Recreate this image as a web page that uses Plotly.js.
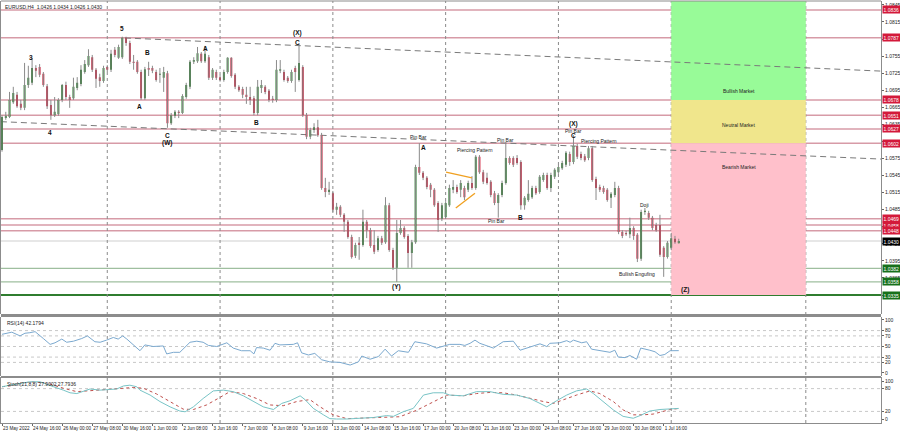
<!DOCTYPE html>
<html><head><meta charset="utf-8">
<script src="https://cdn.plot.ly/plotly-3.0.1.min.js"></script>
<style>html,body{margin:0;padding:0;background:#fff}#chart{width:900px;height:433px}</style>
</head><body><div id="chart"></div>
<script>
// ---------- DATA (EURUSD H4, bar index 0 = 23 May 2022 08:00) ----------
const barOpen=[1.0590,1.0646,1.0648,1.0674,1.0687,1.0671,1.0664,1.0704,1.0708,1.0734,1.0736,1.0724,1.0702,1.0669,1.0651,1.0653,1.0678,1.0704,1.0683,1.0681,1.0699,1.0706,1.0727,1.0739,1.0753,1.0731,1.0718,1.0711,1.0736,1.0731,1.0766,1.0752,1.0753,1.0787,1.0778,1.0745,1.0745,1.0727,1.0681,1.0734,1.0734,1.0727,1.0722,1.0717,1.0725,1.0637,1.0650,1.0657,1.0655,1.0683,1.0701,1.0745,1.0746,1.0759,1.0746,1.0753,1.0717,1.0727,1.0718,1.0713,1.0727,1.0752,1.0722,1.0701,1.0697,1.0687,1.0683,1.0681,1.0655,1.0699,1.0701,1.0694,1.0680,1.0678,1.0729,1.0727,1.0717,1.0711,1.0734,1.0713,1.0736,1.0651,1.0613,1.0625,1.0630,1.0616,1.0523,1.0516,1.0514,1.0485,1.0490,1.0476,1.0464,1.0437,1.0404,1.0427,1.0423,1.0464,1.0449,1.0423,1.0414,1.0435,1.0428,1.0493,1.0414,1.0383,1.0444,1.0453,1.0439,1.0409,1.0428,1.0560,1.0550,1.0541,1.0529,1.0520,1.0497,1.0469,1.0472,1.0493,1.0520,1.0525,1.0520,1.0523,1.0520,1.0532,1.0523,1.0578,1.0551,1.0541,1.0534,1.0514,1.0497,1.0511,1.0532,1.0576,1.0576,1.0576,1.0569,1.0493,1.0502,1.0507,1.0523,1.0516,1.0537,1.0546,1.0523,1.0543,1.0551,1.0558,1.0564,1.0583,1.0569,1.0597,1.0583,1.0579,1.0576,1.0593,1.0539,1.0525,1.0523,1.0520,1.0506,1.0511,1.0523,1.0446,1.0444,1.0442,1.0453,1.0441,1.0399,1.0481,1.0479,1.0471,1.0458,1.0458,1.0418,1.0402,1.0418,1.0434,1.0426];
const barHigh=[1.0651,1.0657,1.0692,1.0701,1.0692,1.0678,1.0743,1.0738,1.0752,1.0739,1.0741,1.0727,1.0706,1.0678,1.0683,1.0681,1.0706,1.0710,1.0687,1.0717,1.0718,1.0739,1.0748,1.0767,1.0757,1.0734,1.0724,1.0738,1.0739,1.0766,1.0771,1.0775,1.0789,1.0789,1.0782,1.0757,1.0748,1.0731,1.0736,1.0745,1.0738,1.0731,1.0734,1.0736,1.0729,1.0655,1.0660,1.0660,1.0688,1.0708,1.0748,1.0753,1.0771,1.0762,1.0773,1.0757,1.0734,1.0731,1.0722,1.0731,1.0753,1.0753,1.0725,1.0704,1.0701,1.0701,1.0701,1.0685,1.0713,1.0713,1.0704,1.0697,1.0685,1.0748,1.0748,1.0731,1.0720,1.0731,1.0738,1.0776,1.0739,1.0655,1.0629,1.0637,1.0643,1.0620,1.0541,1.0534,1.0518,1.0497,1.0493,1.0479,1.0467,1.0441,1.0427,1.0437,1.0485,1.0467,1.0453,1.0449,1.0439,1.0439,1.0507,1.0497,1.0418,1.0467,1.0467,1.0456,1.0442,1.0432,1.0564,1.0602,1.0553,1.0544,1.0532,1.0523,1.0500,1.0497,1.0500,1.0529,1.0537,1.0529,1.0537,1.0527,1.0536,1.0544,1.0581,1.0581,1.0555,1.0550,1.0537,1.0518,1.0514,1.0536,1.0604,1.0579,1.0579,1.0581,1.0572,1.0509,1.0537,1.0527,1.0527,1.0546,1.0550,1.0550,1.0550,1.0558,1.0564,1.0571,1.0588,1.0587,1.0616,1.0601,1.0587,1.0583,1.0597,1.0597,1.0543,1.0529,1.0527,1.0523,1.0516,1.0534,1.0527,1.0449,1.0448,1.0471,1.0456,1.0444,1.0485,1.0488,1.0483,1.0474,1.0462,1.0476,1.0421,1.0430,1.0444,1.0439,1.0434];
const barLow=[1.0587,1.0643,1.0646,1.0671,1.0664,1.0660,1.0660,1.0699,1.0704,1.0718,1.0718,1.0701,1.0662,1.0643,1.0648,1.0650,1.0674,1.0678,1.0664,1.0678,1.0695,1.0702,1.0724,1.0736,1.0727,1.0699,1.0701,1.0708,1.0727,1.0727,1.0753,1.0750,1.0750,1.0773,1.0741,1.0731,1.0724,1.0678,1.0678,1.0720,1.0725,1.0710,1.0708,1.0692,1.0629,1.0634,1.0646,1.0646,1.0653,1.0680,1.0697,1.0741,1.0743,1.0743,1.0743,1.0713,1.0713,1.0713,1.0710,1.0710,1.0724,1.0717,1.0697,1.0692,1.0681,1.0671,1.0669,1.0651,1.0651,1.0690,1.0688,1.0674,1.0673,1.0674,1.0725,1.0710,1.0708,1.0708,1.0692,1.0710,1.0648,1.0609,1.0609,1.0620,1.0613,1.0520,1.0507,1.0511,1.0481,1.0476,1.0472,1.0446,1.0434,1.0399,1.0400,1.0397,1.0420,1.0435,1.0418,1.0407,1.0411,1.0423,1.0425,1.0411,1.0379,1.0358,1.0441,1.0434,1.0383,1.0383,1.0425,1.0546,1.0537,1.0521,1.0507,1.0490,1.0446,1.0465,1.0469,1.0490,1.0514,1.0513,1.0507,1.0502,1.0516,1.0520,1.0520,1.0548,1.0530,1.0529,1.0507,1.0493,1.0471,1.0507,1.0529,1.0564,1.0560,1.0564,1.0485,1.0485,1.0499,1.0504,1.0511,1.0513,1.0534,1.0520,1.0516,1.0539,1.0548,1.0555,1.0560,1.0562,1.0565,1.0574,1.0572,1.0569,1.0572,1.0534,1.0502,1.0516,1.0513,1.0499,1.0488,1.0507,1.0442,1.0435,1.0439,1.0435,1.0432,1.0393,1.0395,1.0476,1.0467,1.0449,1.0446,1.0402,1.0367,1.0399,1.0414,1.0425,1.0426];
const barClose=[1.0648,1.0650,1.0678,1.0690,1.0667,1.0664,1.0704,1.0717,1.0734,1.0729,1.0722,1.0704,1.0667,1.0651,1.0657,1.0678,1.0704,1.0683,1.0678,1.0701,1.0708,1.0731,1.0741,1.0755,1.0731,1.0715,1.0711,1.0734,1.0731,1.0759,1.0757,1.0771,1.0787,1.0778,1.0745,1.0743,1.0727,1.0681,1.0732,1.0731,1.0729,1.0713,1.0724,1.0727,1.0637,1.0651,1.0657,1.0655,1.0685,1.0704,1.0745,1.0748,1.0760,1.0746,1.0759,1.0717,1.0731,1.0717,1.0713,1.0727,1.0752,1.0720,1.0701,1.0695,1.0687,1.0683,1.0678,1.0655,1.0701,1.0704,1.0692,1.0678,1.0678,1.0731,1.0732,1.0713,1.0711,1.0727,1.0727,1.0743,1.0651,1.0613,1.0625,1.0630,1.0616,1.0523,1.0516,1.0520,1.0485,1.0490,1.0476,1.0464,1.0437,1.0402,1.0423,1.0423,1.0464,1.0449,1.0421,1.0411,1.0435,1.0427,1.0493,1.0414,1.0383,1.0444,1.0453,1.0437,1.0409,1.0428,1.0560,1.0550,1.0541,1.0525,1.0520,1.0493,1.0467,1.0493,1.0497,1.0523,1.0525,1.0516,1.0532,1.0507,1.0532,1.0523,1.0578,1.0551,1.0534,1.0532,1.0511,1.0497,1.0511,1.0532,1.0576,1.0567,1.0564,1.0567,1.0493,1.0506,1.0513,1.0523,1.0514,1.0543,1.0546,1.0523,1.0546,1.0555,1.0560,1.0567,1.0585,1.0569,1.0597,1.0578,1.0576,1.0572,1.0593,1.0537,1.0523,1.0520,1.0516,1.0502,1.0513,1.0523,1.0446,1.0439,1.0442,1.0453,1.0439,1.0399,1.0481,1.0483,1.0471,1.0453,1.0449,1.0406,1.0402,1.0427,1.0435,1.0428,1.0430];

const timeTickIdx=[0,8,16,24,32,40,48,56,64,72,80,88,96,104,112,120,128,136,144,152,160,168,176];
const timeTickText=['23 May 2022','24 May 16:00','26 May 00:00','27 May 08:00','30 May 16:00','1 Jun 00:00','2 Jun 08:00','3 Jun 16:00','7 Jun 00:00','8 Jun 08:00','9 Jun 16:00','13 Jun 00:00','14 Jun 08:00','15 Jun 16:00','17 Jun 00:00','20 Jun 08:00','21 Jun 16:00','23 Jun 00:00','24 Jun 08:00','27 Jun 16:00','29 Jun 00:00','30 Jun 08:00','1 Jul 16:00'];
const separatorIdx=[28,58,88,118,148,178,213.8];
const priceTicks=[1.0335,1.0365,1.0395,1.0425,1.0455,1.0485,1.0515,1.0545,1.0575,1.0605,1.0635,1.0665,1.0695,1.0725,1.0755,1.0785,1.0815,1.0845];
const priceTicksHidden=[1.0335,1.0455,1.0605,1.0785]; // fully covered by level tags
const rsiTicks=[0,20,30,50,70,80,100];
const rsiLevels=[20,30,50,70,80];
const stochTicks=[0,20,80,100];
const stochLevels=[20,80];

const rsiX=[0,1.2,2.6,4.8,6.1,7.4,8.8,11,12.8,14.1,15.9,17.2,19,21.2,22.7,24.7,26.1,27.8,29.6,30.9,32.1,33.2,34.9,36.7,38,40.2,42.9,43.8,45.6,47.3,50,51.8,53.5,54.9,57.1,59.8,61.5,63.7,66,67,67.7,69.5,71.3,72.6,73.9,75.7,77.5,78.6,79.7,81.5,83.2,85,87.2,89.9,92.6,94.8,95.7,97.9,100.1,101.9,103.6,105.4,108.1,109.8,112.9,115.6,117.4,119.1,121.8,123.1,124.5,125.8,127.1,130.7,133.3,136,137.8,141.3,143.1,144.9,145.7,148.4,150.2,151.1,152,154.2,155.5,156.8,159.9,161.7,163,163.9,165.7,167,168.8,169.9,172.3,173.7,175,176.3,177.7,180];
const rsiVal=[73,75,77,70,75,76,78,65,54,57,64,58,60,65,70,59,58,62,67,64,70,64,54,42,53,50,51,36,39,39,58,60,58,52,50,57,47,42,42,36,48,47,43,56,53,54,54,57,38,34,37,25,21,20,15,21,32,26,31,45,32,42,39,59,55,47,51,54,54,52,56,62,56,47,59,60,43,50,55,50,56,57,61,58,62,57,59,45,42,39,43,30,29,33,26,47,43,40,33,35,42,42.18];

const stochX=[0,2.1,4.8,7.4,10.1,11.4,13.7,16.3,18.1,19.9,21.6,23.4,26.1,28.7,30.5,32.3,34,35.8,36.7,39.4,42,44.7,47.3,48.7,50.9,53.5,56.2,58.9,61.5,64.2,66.8,69.5,72.2,74.4,76.6,79.3,80.6,82.8,85.5,87.2,89,91.7,95.2,98.8,102.3,104.1,106.7,109.4,112.1,114.7,117.4,119.1,122.7,126.2,129.8,133.3,136.9,140.4,143.1,144.9,147.5,150.2,152.8,155.5,157.3,159.9,162.6,165.2,167.9,169.7,172.3,175,177.7,180];
const stochMain=[85,89,94,98,98,94,85,76,69,67,72,79,76,78,79,87,89,85,76,63,46,32,21,19,32,54,74,76,72,61,46,32,25,41,48,61,51,28,11,1,0,0,2,4,9,7,19,28,63,69,69,63,61,72,72,65,63,54,41,32,48,63,74,79,67,46,24,7,2,9,21,25,26,27.9];
const signalX=[0,2.1,4.8,8.3,12.8,16.3,19.9,23.4,26.1,29.6,34.9,37.6,41.1,44.7,48.2,50.9,54.4,58,60.6,64.2,67.7,71.3,74.8,78.4,81.9,84.6,88.1,91.7,95.2,98.8,102.3,105.8,110.3,114.7,118.3,122.7,126.2,129.8,133.3,136.9,140.4,144,146.6,149.3,152.8,156.4,159,162.6,165.2,167.9,170.5,173.2,175.8,177.7,180];
const stochSignal=[85,87,94,98,92,81,72,74,76,79,83,81,66,46,26,25,37,57,72,67,54,37,35,46,51,32,11,1,2,4,4,6,23,46,63,61,67,70,69,63,54,46,41,51,63,74,67,46,24,11,11,13,21,25,27.8];

const levelsRed=[1.0836,1.0787,1.0678,1.0651,1.0627,1.0602,1.0469,1.0458,1.0448];
const levelsGreen=[1.0382,1.0358,1.0335];
const currentPrice=1.0430;

const zoneNames=['Bullish Market','Neutral Market','Bearish Market'];
const zoneLow=[1.0678,1.0602,1.0335];
const zoneHigh=[1.0852,1.0678,1.0602];
const zoneFrom=178, zoneTo=213.8;

// trend lines [x0,y0,x1,y1]
const trendDashed=[[32.7,1.07868,233.8,1.07286],[-0.3,1.06397,233.8,1.05740]];
const triangleLines=[[118.1,1.0551,125.0,1.0541],[120.7,1.0488,125.8,1.0514]];

const waveText=['3','4','5','B','A','C','(W)','A','B','(X)','C','A','B','(Y)','(X)','C','(Z)'];
const waveX=[7.7,12.8,31.9,38.8,36.7,43.9,43.9,54,67.8,78.7,78.7,112,137.8,104.8,151.9,151.9,181.6];
const waveY=[1.0753,1.0620,1.0803,1.0762,1.0667,1.0616,1.0602,1.0769,1.0639,1.0796,1.0778,1.0595,1.0472,1.0349,1.0636,1.0615,1.0344];
const patText=['Pin Bar','Piercing Pattern','Pin Bar','Pin Bar','Pin Bar','Piercing Pattern','Doji','Bullish Engufing'];
const patX=[110.9,125.8,133.8,131.6,151.9,158.8,171,168.9];
const patY=[1.0613,1.0590,1.0608,1.0465,1.0623,1.0606,1.0493,1.0372];
const zoneLabelY=[1.0694,1.0634,1.0560];

// ---------- BUILD ----------
const F='Liberation Sans, Arial, sans-serif';
const GREEN='#17701b', RED='#cc1230';
const idx=barOpen.map((_,i)=>i);
const wx=[],wy=[];
idx.forEach(i=>{wx.push(i,i,null);wy.push(barLow[i],barHigh[i],null);});

const traces=[
 {type:'scatter',mode:'lines',x:wx,y:wy,line:{color:'#8a8a8a',width:1},xaxis:'x',yaxis:'y',hoverinfo:'skip'},
 {type:'candlestick',x:idx,open:barOpen,high:barHigh,low:barLow,close:barClose,whiskerwidth:0,
  increasing:{line:{color:GREEN,width:0},fillcolor:GREEN},
  decreasing:{line:{color:RED,width:0},fillcolor:RED},xaxis:'x',yaxis:'y'},
 {type:'scatter',mode:'lines',x:rsiX,y:rsiVal,line:{color:'#7ba9cf',width:1},xaxis:'x',yaxis:'y2'},
 {type:'scatter',mode:'lines',x:signalX,y:stochSignal,line:{color:'#c0504d',width:1,dash:'dot'},xaxis:'x',yaxis:'y3'},
 {type:'scatter',mode:'lines',x:stochX,y:stochMain,line:{color:'#78c4c6',width:1},xaxis:'x',yaxis:'y3'}
];

const shapes=[];
const zoneColors=['#98fb98','#f0e68c','#ffc0cb'];
zoneNames.forEach((n,k)=>{
  shapes.push({type:'rect',xref:'x',yref:'y',x0:zoneFrom,x1:zoneTo,y0:zoneLow[k],y1:zoneHigh[k],fillcolor:zoneColors[k],line:{width:0},layer:'below'});
});
levelsRed.forEach(v=>shapes.push({type:'line',xref:'paper',yref:'y',x0:0,x1:1,y0:v,y1:v,line:{color:'rgba(205,130,145,0.8)',width:1.5},layer:'below'}));
shapes.push({type:'line',xref:'paper',yref:'y',x0:0,x1:1,y0:currentPrice,y1:currentPrice,line:{color:'#cfcfcf',width:1},layer:'below'});
levelsGreen.forEach((v,k)=>shapes.push({type:'line',xref:'paper',yref:'y',x0:0,x1:1,y0:v,y1:v,line:{color:k===2?'#2f7d2f':'#9fbf9f',width:k===2?2:1.3},layer:'below'}));
separatorIdx.forEach(v=>shapes.push({type:'line',xref:'x',yref:'paper',x0:v,x1:v,y0:0,y1:1,line:{color:'#8a8a8a',width:1,dash:'dot'},layer:'below'}));
trendDashed.forEach(t=>shapes.push({type:'line',xref:'x',yref:'y',x0:t[0],y0:t[1],x1:t[2],y1:t[3],line:{color:'#7a7a7a',width:1,dash:'6px,4px'},layer:'below'}));
triangleLines.forEach(t=>shapes.push({type:'line',xref:'x',yref:'y',x0:t[0],y0:t[1],x1:t[2],y1:t[3],line:{color:'#f0a020',width:1.3}}));
rsiLevels.forEach(v=>shapes.push({type:'line',xref:'paper',yref:'y2',x0:0,x1:1,y0:v,y1:v,line:{color:'#c8c8c8',width:1,dash:'dot'},layer:'below'}));
stochLevels.forEach(v=>shapes.push({type:'line',xref:'paper',yref:'y3',x0:0,x1:1,y0:v,y1:v,line:{color:'#c8c8c8',width:1,dash:'dot'},layer:'below'}));
// pane separators and frame
shapes.push({type:'rect',xref:'paper',yref:'paper',x0:0,x1:1,y0:0.2512,y1:0.2583,fillcolor:'#8c8c8c',line:{width:0}});
shapes.push({type:'rect',xref:'paper',yref:'paper',x0:0,x1:1,y0:0.1066,y1:0.1114,fillcolor:'#8c8c8c',line:{width:0}});
shapes.push({type:'line',xref:'paper',yref:'paper',x0:0,x1:1,y0:1,y1:1,line:{color:'#8c8c8c',width:1}});

const ann=[];
ann.push({xref:'paper',yref:'paper',x:0.002,y:0.997,xanchor:'left',yanchor:'top',showarrow:false,text:'EURUSD,H4  1.0426 1.0434 1.0426 1.0430',font:{family:F,size:5,color:'#222'}});
ann.push({xref:'paper',yref:'paper',x:0.005,y:0.249,xanchor:'left',yanchor:'top',showarrow:false,text:'RSI(14) 42.1794',font:{family:F,size:5,color:'#222'}});
ann.push({xref:'paper',yref:'paper',x:0.005,y:0.105,xanchor:'left',yanchor:'top',showarrow:false,text:'Stoch(21,8,8) 27.9002 27.7936',font:{family:F,size:5,color:'#222'}});
waveText.forEach((t,k)=>ann.push({xref:'x',yref:'y',x:waveX[k],y:waveY[k],text:'<b>'+t+'</b>',showarrow:false,font:{family:F,size:6.5,color:'#111'}}));
patText.forEach((t,k)=>ann.push({xref:'x',yref:'y',x:patX[k],y:patY[k],text:t,showarrow:false,font:{family:F,size:5,color:'#222'}}));
zoneNames.forEach((t,k)=>ann.push({xref:'x',yref:'y',x:(zoneFrom+zoneTo)/2,y:zoneLabelY[k],text:t,showarrow:false,font:{family:F,size:5,color:'#222'}}));
const tag=(v,bg)=>ann.push({xref:'paper',yref:'y',x:1,y:v,xanchor:'left',xshift:1,showarrow:false,text:v.toFixed(4),bgcolor:bg,borderpad:0.5,font:{family:F,size:5,color:'#fff'}});
levelsRed.forEach(v=>tag(v,'#d3193a'));
tag(currentPrice,'#000');
levelsGreen.forEach(v=>tag(v,GREEN));

const axLine={showline:true,linecolor:'#8c8c8c',linewidth:1,mirror:true,zeroline:false,showgrid:false};
const tf={family:F,size:5,color:'#222'};
const layout={
  width:900,height:433,margin:{l:1,r:19,t:1,b:10},paper_bgcolor:'#fff',plot_bgcolor:'#fff',
  showlegend:false,hovermode:false,shapes:shapes,annotations:ann,
  xaxis:Object.assign({},axLine,{domain:[0,1],range:[-0.27,233.8],anchor:'y3',rangeslider:{visible:false},
     tickmode:'array',tickvals:timeTickIdx,ticktext:timeTickText,ticklabelposition:'outside right',tickangle:0,
     automargin:false,ticks:'outside',ticklen:2,tickcolor:'#666',tickfont:{family:F,size:4.6,color:'#222'}}),
  yaxis:Object.assign({},axLine,{domain:[0.2583,1],range:[1.03017,1.08518],side:'right',tickmode:'array',tickvals:priceTicks,
     ticktext:priceTicks.map(v=>priceTicksHidden.includes(v)?'':v.toFixed(4)),automargin:false,ticks:'outside',ticklen:2,tickcolor:'#666',tickfont:tf}),
  yaxis2:Object.assign({},axLine,{domain:[0.1114,0.2512],range:[-5.66,105.66],side:'right',anchor:'x',tickmode:'array',
     tickvals:rsiTicks,automargin:false,ticks:'outside',ticklen:2,tickcolor:'#666',tickfont:tf}),
  yaxis3:Object.assign({},axLine,{domain:[0,0.1066],range:[-10.5,107.9],side:'right',anchor:'x',tickmode:'array',
     tickvals:stochTicks,automargin:false,ticks:'outside',ticklen:2,tickcolor:'#666',tickfont:tf})
};
Plotly.newPlot('chart',traces,layout,{staticPlot:true,displayModeBar:false});
</script></body></html>
